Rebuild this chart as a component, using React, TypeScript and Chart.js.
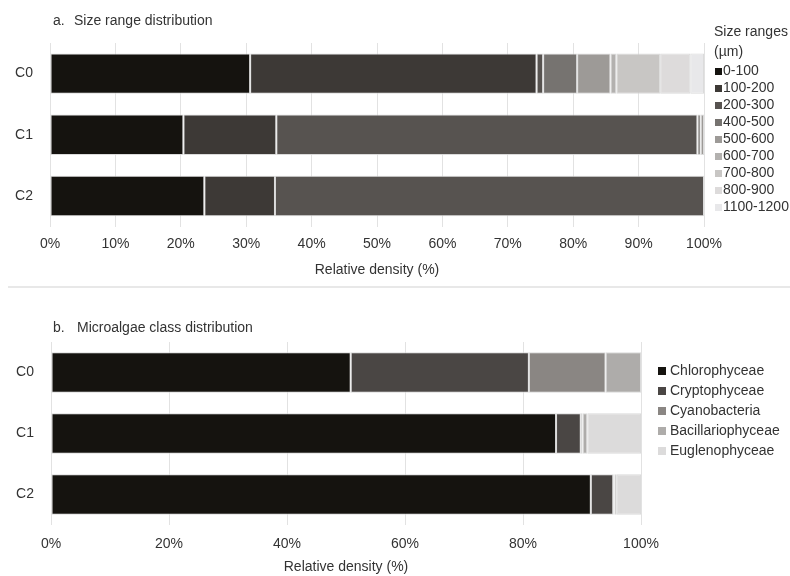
import React, { useEffect, useRef } from "react";
import { Chart, registerables } from "chart.js";

Chart.register(...registerables);

// ---------- Data ----------
const categories = ["C0", "C1", "C2"];
const xTickLabelsA = ["0%", "10%", "20%", "30%", "40%", "50%", "60%", "70%", "80%", "90%", "100%"];
const xTickLabelsB = ["0%", "20%", "40%", "60%", "80%", "100%"];

const sizeRanges = ["0-100", "100-200", "200-300", "400-500", "500-600", "600-700", "700-800", "800-900", "1100-1200"];
const size0to100 = [30.6, 20.4, 23.6];
const size100to200 = [43.8, 14.2, 10.8];
const size200to300 = [1.0, 64.4, 65.6];
const size400to500 = [5.2, 0.5, 0];
const size500to600 = [5.1, 0.5, 0];
const size600to700 = [0.9, 0, 0];
const size700to800 = [6.7, 0, 0];
const size800to900 = [4.6, 0, 0];
const size1100to1200 = [2.1, 0, 0];
const sizeColors = ["#15130f", "#3d3936", "#575350", "#767370", "#9d9a97", "#b3b1af", "#c8c6c4", "#dddbdb", "#e8e8ea"];

const algaeClasses = ["Chlorophyceae", "Cryptophyceae", "Cyanobacteria", "Bacillariophyceae", "Euglenophyceae"];
const chlorophyceae = [50.8, 85.6, 91.5];
const cryptophyceae = [30.2, 4.2, 3.8];
const cyanobacteria = [13.0, 0.3, 0.2];
const bacillariophyceae = [6.0, 0.8, 0.4];
const euglenophyceae = [0, 9.1, 4.1];
const algaeColors = ["#15130f", "#4a4644", "#8a8683", "#aeacaa", "#dcdbdb"];

const FONT = "'Liberation Sans', Arial, sans-serif";
const FS = 14;
const TEXT = "#333333";

type Decor = {
  prefix: string;
  title: string;
  titleX: number;
  titleX2: number;
  titleY: number;
  legendTitle: string[];
  legendTitleY: number;
  legendX: number;
  legendY0: number;
  legendStep: number;
  sq: number;
  textX: number;
};

function decorPlugin(d: Decor) {
  return {
    id: "decor",
    afterDraw(chart: any) {
      const ctx = chart.ctx;
      ctx.save();
      ctx.fillStyle = TEXT;
      ctx.font = `${FS}px ${FONT}`;
      ctx.textBaseline = "middle";
      ctx.textAlign = "left";
      ctx.fillText(d.prefix, d.titleX, d.titleY);
      ctx.fillText(d.title, d.titleX2, d.titleY);
      d.legendTitle.forEach((t, i) => ctx.fillText(t, d.legendX, d.legendTitleY + i * 20));
      chart.data.datasets.forEach((ds: any, i: number) => {
        const y = d.legendY0 + i * d.legendStep;
        ctx.fillStyle = ds.backgroundColor;
        ctx.fillRect(d.legendX + 1, Math.round(y - d.sq / 2), d.sq, d.sq);
        ctx.fillStyle = TEXT;
        ctx.fillText(ds.label, d.textX, y);
      });
      ctx.restore();
    },
  };
}

function makeConfig(
  labels: string[],
  series: number[][],
  colors: string[],
  tickLabels: string[],
  step: number,
  leftW: number,
  bottomH: number,
  top: number,
  right: number,
  tickPad: number,
  titlePad: number,
  decor: Decor
): any {
  return {
    type: "bar",
    data: {
      labels: categories,
      datasets: series.map((s, i) => ({
        label: labels[i],
        data: s,
        backgroundColor: colors[i],
        borderColor: "rgba(215,215,215,0.9)",
        borderWidth: 1,
        borderSkipped: false,
        barPercentage: 0.66,
        categoryPercentage: 1,
      })),
    },
    options: {
      indexAxis: "y",
      responsive: false,
      animation: false,
      layout: { padding: { top, right, left: 0, bottom: 0 } },
      plugins: { legend: { display: false }, tooltip: { enabled: false }, title: { display: false } },
      scales: {
        x: {
          stacked: true,
          min: 0,
          max: 100,
          afterBuildTicks: (scale: any) => {
            scale.ticks = tickLabels.map((_, i) => ({ value: i * step }));
          },
          afterFit: (scale: any) => {
            scale.height = bottomH;
          },
          grid: { color: "#e2e2e2", lineWidth: 1, drawTicks: false },
          border: { display: false },
          ticks: {
            padding: tickPad,
            color: TEXT,
            font: { family: FONT, size: FS },
            callback: (_v: any, i: number) => tickLabels[i],
          },
          title: {
            display: true,
            text: "Relative density (%)",
            color: TEXT,
            font: { family: FONT, size: FS },
            padding: { top: 0, bottom: titlePad },
          },
        },
        y: {
          stacked: true,
          afterFit: (scale: any) => {
            scale.width = leftW;
          },
          grid: { display: false, drawTicks: false },
          border: { display: false },
          ticks: { padding: 17, color: TEXT, font: { family: FONT, size: FS } },
        },
      },
    },
    plugins: [decorPlugin(decor)],
  };
}

function ChartCanvas({ config, top }: { config: any; top: number }) {
  const ref = useRef<HTMLCanvasElement>(null);
  useEffect(() => {
    if (!ref.current) return;
    const c = new Chart(ref.current, config);
    return () => c.destroy();
  }, []);
  return (
    <canvas
      ref={ref}
      width={790}
      height={288}
      style={{ position: "absolute", left: 0, top, width: 790, height: 288 }}
    />
  );
}

export default function App() {
  const configA = makeConfig(
    sizeRanges,
    [size0to100, size100to200, size200to300, size400to500, size500to600, size600to700, size700to800, size800to900, size1100to1200],
    sizeColors,
    xTickLabelsA,
    10,
    50,
    61.4,
    43,
    86,
    9,
    9,
    {
      prefix: "a.",
      title: "Size range distribution",
      titleX: 53,
      titleX2: 74,
      titleY: 21,
      legendTitle: ["Size ranges", "(\u00b5m)"],
      legendTitleY: 32,
      legendX: 714,
      legendY0: 71,
      legendStep: 17,
      sq: 7,
      textX: 723,
    }
  );
  const configB = makeConfig(
    algaeClasses,
    [chlorophyceae, cryptophyceae, cyanobacteria, bacillariophyceae, euglenophyceae],
    algaeColors,
    xTickLabelsB,
    20,
    51,
    51,
    54,
    149,
    11,
    0,
    {
      prefix: "b.",
      title: "Microalgae class distribution",
      titleX: 53,
      titleX2: 77,
      titleY: 40,
      legendTitle: [],
      legendTitleY: 0,
      legendX: 657,
      legendY0: 83,
      legendStep: 20,
      sq: 8,
      textX: 670,
    }
  );
  return (
    <div style={{ position: "fixed", left: 0, top: 0, width: 790, height: 576, background: "#fff" }}>
      <ChartCanvas config={configA} top={0} />
      <div style={{ position: "absolute", left: 8, top: 286, width: 782, height: 2, background: "#e8e8e8" }} />
      <ChartCanvas config={configB} top={288} />
    </div>
  );
}
